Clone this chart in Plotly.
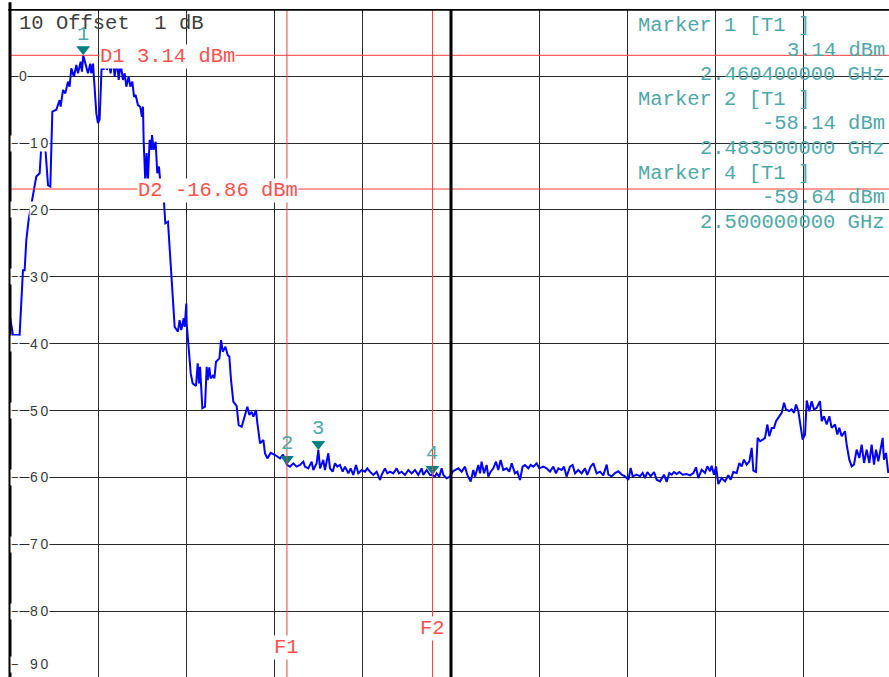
import plotly.graph_objects as go

# ---------------- data ----------------
freq_mhz = [
    2452.10, 2452.44, 2453.19, 2453.31, 2453.57, 2453.76, 2453.95, 2454.21, 2454.52, 2454.78,
    2455.08, 2455.46, 2455.65, 2456.03, 2456.41, 2456.67, 2456.90, 2457.35, 2457.73, 2457.84,
    2458.11, 2458.37, 2458.67, 2458.86, 2459.05, 2459.35, 2459.62, 2459.81, 2460.11, 2460.26,
    2460.40, 2460.94, 2461.20, 2461.32, 2461.51, 2461.89, 2462.07, 2462.26, 2462.53, 2462.72,
    2462.91, 2463.09, 2463.28, 2463.51, 2463.77, 2463.96, 2464.23, 2464.42, 2464.64, 2464.91,
    2465.10, 2465.29, 2465.55, 2465.74, 2465.97, 2466.16, 2466.34, 2466.61, 2466.87, 2467.06,
    2467.18, 2467.25, 2467.44, 2467.59, 2467.74, 2467.93, 2468.12, 2468.20, 2468.39, 2468.61,
    2468.80, 2468.99, 2469.25, 2469.52, 2469.71, 2470.01, 2470.20, 2470.39, 2470.65, 2470.77,
    2471.14, 2471.33, 2471.52, 2471.79, 2471.90, 2472.09, 2472.13, 2472.32, 2472.59, 2472.81,
    2473.19, 2473.38, 2473.53, 2473.65, 2473.80, 2473.91, 2474.21, 2474.40, 2474.51, 2474.70,
    2474.85, 2475.16, 2475.27, 2475.46, 2475.84, 2476.03, 2476.22, 2476.52, 2476.78, 2476.97,
    2477.16, 2477.42, 2477.80, 2478.03, 2478.37, 2478.75, 2479.01, 2479.24, 2479.50, 2479.69,
    2479.99, 2480.15, 2480.33, 2480.45, 2480.83, 2481.01, 2481.28, 2481.66, 2482.15, 2482.72,
    2483.05, 2483.50, 2483.84, 2484.22, 2484.60, 2484.98, 2485.36, 2485.54, 2485.92, 2486.30,
    2486.49, 2486.87, 2487.06, 2487.25, 2487.62, 2487.81, 2488.19, 2488.38, 2488.68, 2488.95,
    2489.21, 2489.51, 2489.82, 2490.08, 2490.46, 2490.72, 2491.02, 2491.33, 2491.59, 2491.97,
    2492.35, 2492.61, 2492.91, 2493.29, 2493.67, 2494.05, 2494.24, 2494.61, 2494.88, 2495.18,
    2495.56, 2495.94, 2496.20, 2496.50, 2496.88, 2497.26, 2497.64, 2498.02, 2498.39, 2498.77,
    2498.96, 2499.34, 2499.72, 2500.00, 2500.28, 2500.47, 2500.77, 2501.04, 2501.23, 2501.61,
    2501.98, 2502.29, 2502.55, 2502.93, 2503.31, 2503.69, 2503.95, 2504.33, 2504.63, 2504.82,
    2505.20, 2505.39, 2505.57, 2505.84, 2506.14, 2506.33, 2506.60, 2506.90, 2507.20, 2507.46,
    2507.73, 2508.03, 2508.41, 2508.71, 2508.98, 2509.35, 2509.62, 2509.92, 2510.22, 2510.49,
    2510.87, 2511.13, 2511.43, 2511.81, 2512.11, 2512.57, 2512.94, 2513.32, 2513.70, 2514.00,
    2514.27, 2514.65, 2514.91, 2515.21, 2515.59, 2515.89, 2516.16, 2516.53, 2516.91, 2517.29,
    2517.55, 2517.93, 2518.24, 2518.61, 2518.99, 2519.37, 2519.75, 2519.94, 2520.32, 2520.69,
    2521.07, 2521.45, 2521.83, 2522.21, 2522.47, 2522.70, 2523.15, 2523.53, 2523.83, 2524.10,
    2524.36, 2524.74, 2525.12, 2525.42, 2525.80, 2526.25, 2526.55, 2526.85, 2527.12, 2527.38,
    2527.69, 2527.99, 2528.37, 2528.82, 2529.20, 2529.58, 2529.88, 2530.14, 2530.52, 2530.90,
    2531.16, 2531.47, 2531.65, 2531.92, 2532.15, 2532.41, 2532.79, 2533.17, 2533.54, 2533.81,
    2534.11, 2534.49, 2534.79, 2535.06, 2535.32, 2535.62, 2535.93, 2536.19, 2536.38, 2536.68,
    2536.87, 2537.14, 2537.44, 2537.70, 2537.97, 2538.19, 2538.46, 2538.72, 2538.95, 2539.33,
    2539.59, 2539.86, 2540.08, 2540.46, 2540.72, 2540.99, 2541.22, 2541.48, 2541.67, 2541.97,
    2542.24, 2542.43, 2542.73, 2542.99, 2543.26, 2543.56, 2543.94, 2544.13, 2544.39, 2544.69,
    2545.00, 2545.26, 2545.64, 2545.90, 2546.13, 2546.39, 2546.77, 2546.96, 2547.26, 2547.53,
    2547.79, 2548.09, 2548.40, 2548.66, 2548.93, 2549.23, 2549.53, 2549.79, 2550.06, 2550.29,
    2550.55, 2550.82, 2551.04, 2551.19, 2551.42, 2551.68,
]
level_dbm = [
    -36.0, -38.7, -38.7, -36.0, -29.0, -29.0, -24.5, -21.5, -19.0, -17.0,
    -15.0, -14.5, -10.5, -9.3, -16.3, -16.5, -5.3, -5.0, -3.55, -4.55,
    -2.05, -2.55, -0.8, -1.55, 1.2, -0.05, 1.7, 0.45, 2.2, 0.7,
    3.14, 0.45, 1.9, 0.45, 1.9, -5.55, -7.0, -6.5, 2.9, 0.95,
    3.0, 0.95, 2.4, 0.45, 3.0, -0.05, 2.4, -0.55, 1.9, -0.55,
    0.45, -1.55, -0.05, -1.55, -0.8, -3.05, -2.8, -4.3, -4.55, -6.05,
    -4.55, -9.5, -15.8, -11.5, -15.5, -9.5, -11.0, -8.8, -11.0, -9.8,
    -14.5, -13.5, -17.5, -18.0, -22.0, -21.75, -25.5, -29.5, -34.0, -37.5,
    -38.2, -36.5, -37.95, -36.2, -37.5, -34.0, -36.96, -39.96, -44.45, -45.94,
    -46.34, -42.95, -45.94, -43.45, -47.44, -49.68, -49.43, -43.45, -45.44, -43.55,
    -45.19, -44.69, -45.19, -42.7, -42.2, -39.46, -41.2, -40.45, -41.7, -41.95,
    -45.44, -48.68, -49.33, -52.18, -52.43, -50.68, -49.43, -50.68, -50.18, -50.93,
    -49.93, -51.93, -53.42, -54.92, -54.42, -56.42, -57.16, -56.32, -56.66, -57.16,
    -56.6, -58.14, -58.40, -57.90, -58.40, -58.15, -57.65, -58.40, -58.65, -57.65,
    -58.90, -57.90, -55.90, -58.65, -57.40, -58.90, -56.40, -58.65, -59.15, -57.90,
    -58.40, -58.15, -59.15, -58.40, -59.40, -58.65, -59.64, -58.15, -59.40, -58.90,
    -59.15, -58.65, -59.15, -59.64, -59.15, -60.39, -59.64, -58.65, -59.40, -59.15,
    -59.40, -58.65, -59.40, -59.15, -59.64, -58.90, -59.40, -58.90, -59.64, -58.65,
    -59.64, -58.90, -59.64, -59.64, -59.89, -59.40, -59.89, -58.65, -59.64, -60.14,
    -59.89, -59.15, -58.90, -58.65, -59.15, -58.40, -59.64, -60.64, -58.90, -59.89,
    -58.15, -59.40, -57.65, -59.40, -58.15, -59.89, -59.15, -58.65, -57.65, -58.90,
    -57.40, -58.90, -58.65, -59.15, -57.90, -59.40, -59.15, -60.39, -58.40, -58.15,
    -58.65, -58.15, -58.40, -57.90, -58.65, -58.40, -58.65, -59.15, -58.40, -59.40,
    -58.65, -58.90, -58.40, -59.89, -58.40, -58.15, -59.40, -58.90, -59.40, -58.65,
    -59.64, -58.40, -57.90, -59.40, -59.15, -59.7, -58.1, -59.6, -59.85, -59.35,
    -59.1, -59.6, -59.85, -60.35, -58.6, -59.85, -59.6, -59.85, -59.35, -60.1,
    -59.2, -59.85, -59.2, -60.35, -60.6, -59.6, -60.7, -59.35, -59.6, -59.2,
    -59.5, -59.2, -59.6, -59.5, -59.7, -59.35, -58.5, -60.1, -58.85, -59.35,
    -58.35, -59.1, -58.25, -59.6, -58.35, -61.0, -60.1, -60.6, -59.7, -60.35,
    -59.2, -59.35, -57.85, -58.35, -57.35, -58.1, -57.6, -55.6, -59.0, -59.2,
    -54.1, -54.6, -54.35, -54.1, -52.1, -53.85, -52.6, -52.6, -51.6, -50.85,
    -50.35, -48.85, -49.85, -50.1, -49.85, -50.35, -49.1, -50.1, -51.6, -54.35,
    -53.6, -48.5, -50.1, -48.6, -49.85, -49.6, -48.6, -51.6, -50.85, -52.1,
    -50.85, -52.6, -52.1, -53.6, -52.6, -53.85, -53.1, -55.1, -57.35, -58.35,
    -58.1, -55.85, -57.1, -55.1, -57.85, -55.85, -57.85, -55.1, -58.1, -55.85,
    -57.6, -55.6, -54.1, -57.35, -56.35, -59.35,
]

marker_freq_mhz = [2460.4, 2483.5, 2487.06, 2500.0]
marker_level_dbm = [3.14, -58.14, -55.9, -59.64]
marker_names = ["1", "2", "3", "4"]

display_line_dbm = [3.14, -16.86]
display_line_names = ["D1", "D2"]

freq_line_mhz = [2483.5, 2500.0]
freq_line_names = ["F1", "F2"]

y_tick_values = [0, -10, -20, -30, -40, -50, -60, -70, -80, -90]

header_text = "10 Offset  1 dB"
marker_table = [
    ("Marker 1 [T1 ]", "left"),
    ("3.14 dBm", "right"),
    ("2.460400000 GHz", "right"),
    ("Marker 2 [T1 ]", "left"),
    ("-58.14 dBm", "right"),
    ("2.483500000 GHz", "right"),
    ("Marker 4 [T1 ]", "left"),
    ("-59.64 dBm", "right"),
    ("2.500000000 GHz", "right"),
]

# ---------------- layout constants ----------------
W, H = 889, 677
ML, MT = 10, 9
PW, PH = W - ML, H - MT
X_RANGE = [2452.1, 2551.76]
Y_RANGE = [-89.87, 10.07]
CENTER_MHZ = 2502.1
PX_PER_DB = PH / (Y_RANGE[1] - Y_RANGE[0])

MONO = "Liberation Mono"
SANS = "Liberation Sans"
TEAL_TXT = "#4fa8a8"
TEAL_MK = "#008080"
RED_TXT = "#ff5050"
RED_LN = "#ff3b3b"
GRID = "#2a2a2a"
TICK_COLOR = "#3a3a3a"
FS = 20.5


def px_x(p):
    return (p - ML) / PW


def px_y(p):
    return 1 - (p - MT) / PH


fig = go.Figure()

fig.add_trace(go.Scatter(
    x=freq_mhz, y=level_dbm, mode="lines",
    line=dict(color="#0000ff", width=2), hoverinfo="skip",
))

MK_SIZE = 12
tip = (MK_SIZE / 2) / PX_PER_DB
fig.add_trace(go.Scatter(
    x=marker_freq_mhz, y=[v + tip for v in marker_level_dbm], mode="markers",
    marker=dict(symbol="triangle-down", size=MK_SIZE, color=TEAL_MK, line=dict(width=0)),
    hoverinfo="skip",
))

shapes = []
for v in display_line_dbm:
    shapes.append(dict(type="line", xref="paper", yref="y", x0=0, x1=1, y0=v, y1=v,
                       line=dict(color=RED_LN, width=1)))
for f in freq_line_mhz:
    shapes.append(dict(type="line", xref="x", yref="paper", x0=f, x1=f, y0=0, y1=1,
                       line=dict(color=RED_LN, width=1)))
shapes.append(dict(type="line", xref="x", yref="paper", x0=CENTER_MHZ, x1=CENTER_MHZ,
                   y0=0, y1=1, line=dict(color="black", width=3)))
shapes.append(dict(type="line", xref="paper", yref="paper", x0=0, x1=0, y0=0, y1=1.01,
                   line=dict(color="black", width=3)))
shapes.append(dict(type="line", xref="paper", yref="y", x0=-0.002, x1=1, y0=10, y1=10,
                   line=dict(color="black", width=2.5)))

ann = []
for v in y_tick_values:
    if v == -90:
        yy, yref = px_y(664), "paper"
    else:
        yy, yref = v, "y"
    tfont = dict(family=SANS, size=14, color=TICK_COLOR)
    if v == 0:
        ann.append(dict(x=px_x(22.5), y=yy, xref="paper", yref=yref, text="0",
                        showarrow=False, xanchor="center", yanchor="middle",
                        bgcolor="white", borderpad=0, font=tfont))
    else:
        digits = "\u2009".join(str(abs(v)))
        ann.append(dict(x=px_x(14.5), y=yy, xref="paper", yref=yref, text="\u2212",
                        showarrow=False, xanchor="center", yanchor="middle",
                        bgcolor="white", borderpad=0,
                        font=dict(family=SANS, size=13, color=TICK_COLOR)))
        ann.append(dict(x=px_x(39), y=yy, xref="paper", yref=yref, text=digits,
                        showarrow=False, xanchor="center", yanchor="middle",
                        bgcolor="white", borderpad=0, font=tfont))

ann.append(dict(x=px_x(17), y=px_y(23.5), xref="paper", yref="paper", text=header_text,
                showarrow=False, xanchor="left", yanchor="middle",
                font=dict(family=MONO, size=FS, color="#404040")))

for i, (txt, side) in enumerate(marker_table):
    yc = 25.5 + 24.6 * i
    if side == "left":
        ann.append(dict(x=px_x(637), y=px_y(yc), xref="paper", yref="paper", text=txt,
                        showarrow=False, xanchor="left", yanchor="middle", borderpad=0,
                        font=dict(family=MONO, size=FS, color=TEAL_TXT)))
    else:
        ann.append(dict(x=px_x(886), y=px_y(yc), xref="paper", yref="paper", text=txt,
                        showarrow=False, xanchor="right", yanchor="middle", borderpad=0,
                        font=dict(family=MONO, size=FS, color=TEAL_TXT)))

d_label_px = [99, 137]
for v, name, xp in zip(display_line_dbm, display_line_names, d_label_px):
    ann.append(dict(x=px_x(xp), y=v, xref="paper", yref="y", text=f"{name} {v:.2f} dBm",
                    showarrow=False, xanchor="left", yanchor="middle", yshift=-1,
                    bgcolor="white", borderpad=0,
                    font=dict(family=MONO, size=FS, color=RED_TXT)))

f_label_py = [647, 628]
for f, name, yp in zip(freq_line_mhz, freq_line_names, f_label_py):
    ann.append(dict(x=f, y=px_y(yp), xref="x", yref="paper", text=name,
                    showarrow=False, xanchor="center", yanchor="middle",
                    bgcolor="white", borderpad=0,
                    font=dict(family=MONO, size=FS, color=RED_TXT)))

for f, v, name in zip(marker_freq_mhz, marker_level_dbm, marker_names):
    ann.append(dict(x=f, y=v, xref="x", yref="y", text=name, showarrow=False,
                    xanchor="center", yanchor="middle", yshift=21,
                    font=dict(family=MONO, size=FS, color=TEAL_TXT)))

fig.update_layout(
    width=W, height=H,
    margin=dict(l=ML, r=0, t=MT, b=0, pad=0),
    paper_bgcolor="white", plot_bgcolor="white",
    showlegend=False,
    shapes=shapes, annotations=ann,
    xaxis=dict(range=X_RANGE, tick0=X_RANGE[0], dtick=10, showgrid=True,
               gridcolor=GRID, gridwidth=1, showticklabels=False, ticks="",
               zeroline=False, showline=False, fixedrange=True),
    yaxis=dict(range=Y_RANGE, tick0=0, dtick=10, showgrid=True,
               gridcolor=GRID, gridwidth=1, showticklabels=False, ticks="",
               zeroline=False, showline=False, fixedrange=True),
)

fig.write_html(
    "out.html",
    config={"displayModeBar": False},
    post_script="document.body.style.margin='0';document.body.style.overflow='hidden';",
)
